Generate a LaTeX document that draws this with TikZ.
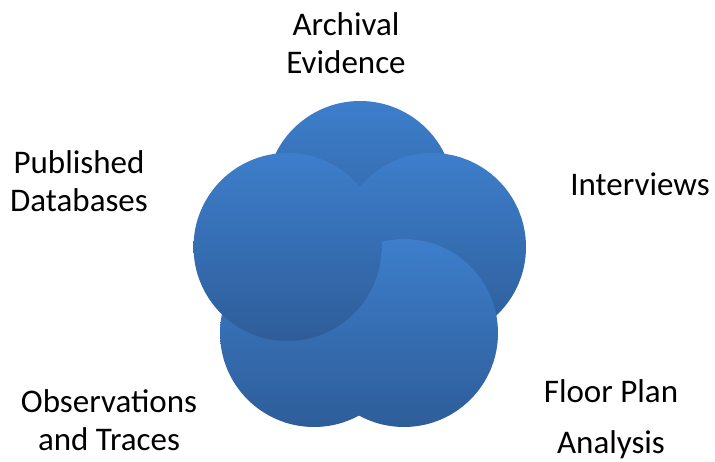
\documentclass[tikz,border=0pt]{standalone}
\usepackage{fontspec}
\setmainfont{Carlito}
\definecolor{petaltop}{HTML}{3D7ECB}
\definecolor{petalbottom}{HTML}{2E5D99}
\tikzset{
  petal/.style={circle, minimum size=188pt, inner sep=0pt,
    top color=petaltop, bottom color=petalbottom, draw=none},
  % base anchor sits on the baseline of the last line
  caption/.style={align=center, inner sep=0pt, anchor=base,
    font=\fontsize{33}{38}\selectfont}
}
\begin{document}
\begin{tikzpicture}[x=1pt,y=1pt]
  \useasboundingbox (0,0) rectangle (715,461);
  % five overlapping petals, drawn clockwise from the top
  \node[petal] (archival) at (360,266) {};
  \node[petal] (interviews) at (432,214) {};
  \node[petal] (floorplan) at (404,128) {};
  \node[petal] (observations) at (314,128) {};
  \node[petal] (published) at (287.5,214) {};
  % captions around the flower
  \node[caption] (archivalText) at (346,387) {Archival\\Evidence};
  \node[caption] (interviewsText) at (640,265) {Interviews};
  \node[caption] (floorplanText) at (611,8) {Floor Plan\\[13pt]Analysis};
  \node[caption] (observationsText) at (109,11) {Observations\\and Traces};
  \node[caption] (publishedText) at (79,249.3) {Published\\Databases};
\end{tikzpicture}
\end{document}
